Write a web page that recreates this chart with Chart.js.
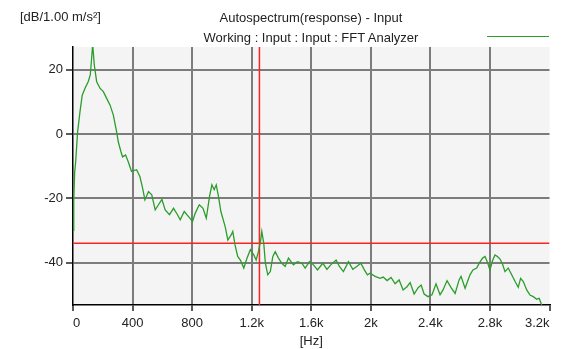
<!DOCTYPE html>
<html>
<head>
<meta charset="utf-8">
<script src="https://cdn.jsdelivr.net/npm/chart.js@4"></script>
<style>
  body { margin: 0; background: #fff; }
  #wrap { position: relative; width: 561px; height: 349px; font-family: "Liberation Sans", Arial, sans-serif; font-size: 13px; color: #222; }
  #myGraph { display: block; }
  .lbl { position: absolute; white-space: nowrap; line-height: 15px; }
</style>
</head>
<body>
<div id="wrap">
  <canvas id="myGraph" width="561" height="349"></canvas>
  <div class="lbl" style="left:20px; top:9px">[dB/1.00 m/s²]</div>
  <div class="lbl" style="left:0; width:622px; text-align:center; top:10px">Autospectrum(response) - Input</div>
  <div class="lbl" style="left:0; width:622px; text-align:center; top:30px">Working : Input : Input : FFT Analyzer</div>
  <div style="position:absolute; left:487px; top:36px; width:62px; height:0; border-top:1.5px solid #2a9d2a"></div>
</div>
<script>
// spectrum: frequency [Hz] and level [dB]
var freqs = [0, 5, 11, 18, 31, 47, 62, 80, 102, 116, 125, 132, 143, 159, 182, 204, 226, 249, 271, 293,
  304, 322, 333, 353, 371, 393, 427, 449, 465, 483, 507, 529, 552, 574, 597, 619, 648, 675, 702, 720,
  747, 776, 803, 821, 848, 873, 895, 917, 933, 948, 962, 977, 993, 1022, 1040, 1062, 1073, 1088, 1106, 1124,
  1147, 1169, 1191, 1214, 1230, 1245, 1259, 1268, 1281, 1292, 1308, 1325, 1342, 1358, 1380, 1402, 1425, 1447, 1480, 1507,
  1537, 1559, 1588, 1615, 1642, 1678, 1705, 1731, 1767, 1789, 1816, 1850, 1879, 1901, 1933, 1955, 1977, 1995, 2029, 2062,
  2083, 2109, 2136, 2163, 2190, 2217, 2243, 2264, 2291, 2318, 2338, 2358, 2384, 2411, 2438, 2465, 2485, 2512, 2539, 2566,
  2593, 2606, 2633, 2666, 2686, 2711, 2729, 2751, 2767, 2782, 2800, 2819, 2834, 2850, 2868, 2886, 2901, 2923, 2946, 2969,
  2990, 3006, 3024, 3047, 3069, 3091, 3114, 3131, 3147];
var levels = [-30, -21, -12, -8.6, 0.7, 7, 12.1, 14.2, 16.3, 18.4, 23.5, 28, 21.5, 16.3, 14.2, 13.2, 11.1, 9, 5.9, 0.7,
  -2.4, -5.5, -7.1, -6.5, -8.6, -11.6, -11.1, -13.2, -16.3, -20.5, -17.9, -18.9, -23.6, -22, -20.3, -23.6, -25.1, -23.1, -25.1, -26.7,
  -24.1, -25.7, -27.2, -24.6, -22, -23.1, -26.2, -19.4, -15.8, -17.3, -15.8, -19.4, -24.1, -28.8, -33, -31.4, -30.3, -34.5, -38.1, -39.2,
  -41.7, -38.6, -36, -37.6, -39.2, -36.6, -33.5, -30.3, -34, -40.2, -43.8, -42.8, -38.1, -36.6, -38.6, -40.2, -41.2, -38.6, -40.7, -39.7,
  -40.2, -41.7, -39.7, -40.7, -42.3, -40.2, -42.1, -40.7, -39.2, -41.2, -42.8, -39.7, -42.1, -41.4, -40.2, -42.1, -43.8, -43.3, -44.3, -44.9,
  -44.5, -45.6, -44.6, -46.6, -45.4, -48.5, -47.5, -46.2, -49.8, -47.8, -47, -49.8, -50.6, -50, -46.6, -50, -48.5, -45.6, -47.8, -49.6,
  -45.4, -44.3, -48, -43.8, -42.3, -41.7, -40.1, -38.6, -38.1, -39.7, -42.3, -39.2, -37.6, -38.1, -38.9, -40.7, -42.8, -41.7, -43.8, -45.9,
  -47.7, -44.9, -45.9, -48.5, -50.1, -50.6, -51.4, -51.1, -53.2];

var xTicks = [0, 400, 800, 1200, 1600, 2000, 2400, 2800, 3200];
var xTickLabels = ["0", "400", "800", "1.2k", "1.6k", "2k", "2.4k", "2.8k", "3.2k"];
var yTicks = [-40, -20, 0, 20];
var yMin = -53.2;
var yMax = 27.1;

// cursor position
var cursorFreq = 1252;
var cursorLevel = -34;

var plotBackground = {
  id: "plotBackground",
  beforeDraw: function(chart) {
    var a = chart.chartArea;
    var c = chart.ctx;
    c.save();
    c.fillStyle = "#f4f4f4";
    c.fillRect(a.left, a.top, a.right - a.left, a.bottom - a.top);
    c.restore();
  }
};

var graph = document.getElementById("myGraph").getContext("2d");

new Chart(graph, {
  type: "line",
  data: {
    datasets: [
      {
        label: "Input",
        data: freqs.map((f, i) => ({x: f, y: levels[i]})),
        borderColor: "#2a9d2a",
        borderWidth: 1.3,
        pointRadius: 0,
        order: 0
      },
      {
        label: "cursor x",
        data: [{x: cursorFreq, y: yMin}, {x: cursorFreq, y: yMax}],
        borderColor: "#ff2020",
        borderWidth: 1.5,
        pointRadius: 0,
        order: 1
      },
      {
        label: "cursor y",
        data: [{x: 0, y: cursorLevel}, {x: 3200, y: cursorLevel}],
        borderColor: "#ff2020",
        borderWidth: 1.5,
        pointRadius: 0,
        order: 1
      }
    ]
  },
  options: {
    responsive: false,
    animation: false,
    layout: {
      autoPadding: false,
      padding: {top: 47, right: 11.5, left: 0, bottom: 0}
    },
    plugins: {
      legend: {display: false},
      tooltip: {enabled: false}
    },
    scales: {
      x: {
        type: "linear",
        min: 0,
        max: 3200,
        afterBuildTicks: function(scale) {
          scale.ticks = xTicks.map(v => ({value: v}));
        },
        afterFit: function(scale) {
          scale.height = 44;
        },
        ticks: {
          callback: function(value, index) { return xTickLabels[index]; },
          autoSkip: false,
          maxRotation: 0,
          align: "inner",
          padding: 5,
          color: "#222",
          font: {family: "Liberation Sans", size: 13}
        },
        grid: {
          color: function(ctx) {
            if (ctx.tick && (ctx.tick.value === 0 || ctx.tick.value === 3200)) return "rgba(0,0,0,0)";
            return "#7c7c7c";
          },
          lineWidth: 2,
          tickColor: "#000",
          tickLength: 6,
          tickWidth: 1.3
        },
        border: {color: "#000", width: 1.5},
        title: {
          display: true,
          text: "[Hz]",
          color: "#222",
          font: {family: "Liberation Sans", size: 13},
          padding: {top: 0, bottom: 0}
        }
      },
      y: {
        type: "linear",
        min: yMin,
        max: yMax,
        afterBuildTicks: function(scale) {
          scale.ticks = yTicks.map(v => ({value: v}));
        },
        afterFit: function(scale) {
          scale.width = 73;
        },
        ticks: {
          padding: 3,
          color: "#222",
          font: {family: "Liberation Sans", size: 13}
        },
        grid: {
          color: "#7c7c7c",
          lineWidth: 2,
          tickColor: "#000",
          tickLength: 7,
          tickWidth: 1.3
        },
        border: {color: "#000", width: 1.5}
      }
    }
  },
  plugins: [plotBackground]
});
</script>
</body>
</html>
